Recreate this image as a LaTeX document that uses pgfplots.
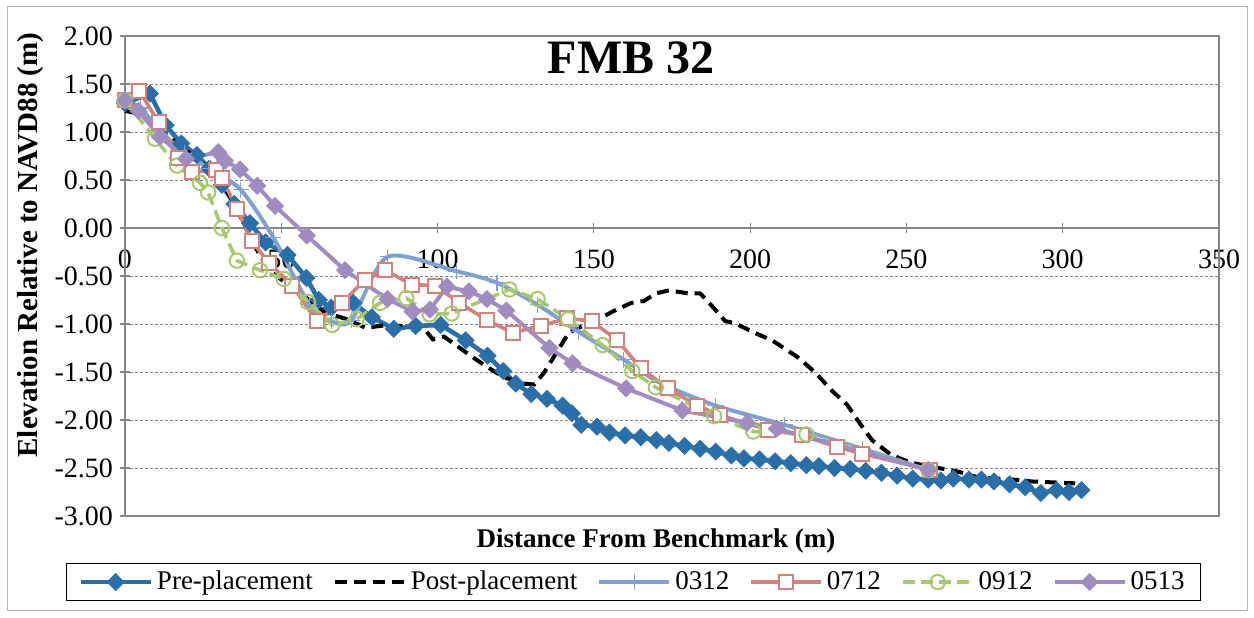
\documentclass[border=0pt]{standalone}
\usepackage{pgfplots}
\pgfplotsset{compat=1.18}
\usepackage{fontspec}
\setmainfont{Liberation Serif}

\definecolor{preblue}{RGB}{44,110,168}
\definecolor{lblue}{RGB}{128,160,208}
\definecolor{lred}{RGB}{212,128,124}
\definecolor{lgreen}{RGB}{168,200,112}
\definecolor{lpurple}{RGB}{160,140,192}
\definecolor{axgray}{RGB}{134,134,134}

\begin{document}
\begin{tikzpicture}
\useasboundingbox (0,0) rectangle (627pt,308.5pt);
\draw[gray!60, line width=0.5pt] (3.5pt,3.5pt) rectangle (623.5pt,305pt);
\begin{axis}[
  at={(62.5pt,50.5pt)}, anchor=south west,
  width=547pt, height=240pt, scale only axis,
  xmin=0, xmax=350, ymin=-3, ymax=2,
  axis x line=middle, axis y line=left,
  axis line style={-, draw=axgray, line width=0.6pt},
  hide obscured x ticks=false,
  xtick={0,50,100,150,200,250,300,350},
  xticklabels={0,50,100,150,200,250,300,350},
  ytick={-3,-2.5,-2,-1.5,-1,-0.5,0,0.5,1,1.5,2},
  yticklabels={-3.00,-2.50,-2.00,-1.50,-1.00,-0.50,0.00,0.50,1.00,1.50,2.00},
  tick label style={font=\fontsize{14}{16}\selectfont},
  xticklabel style={yshift=-5pt},
  tick align=center, major tick length=5pt,
  tick style={draw=axgray, line width=0.6pt},
  ymajorgrids, major grid style={draw=axgray, dash pattern=on 1.5pt off 1pt, line width=0.4pt},
  clip=false,
  legend columns=6,
  legend style={at={(axis description cs:0.4648,-0.1375)}, anchor=center,
    draw=black, line width=0.5pt, font=\fontsize{13.5}{15}\selectfont,
    /tikz/every even column/.append style={column sep=8pt},
    inner ysep=2pt, inner xsep=6pt},
  legend image code/.code={\draw[mark repeat=2,mark phase=2,#1] plot coordinates {(0pt,0pt) (17.5pt,0pt) (35pt,0pt)};},
]
\draw[axgray, line width=0.6pt] (rel axis cs:0,0) rectangle (rel axis cs:1,1);

\addplot[preblue, line width=2.3pt, mark=square*, mark size=3pt, mark options={rotate=45, solid, line width=0.4pt}]
coordinates {(0,1.30)(8,1.40)(13,1.07)(18,0.88)(23,0.76)(27,0.62)(31,0.45)(35,0.25)(40,0.05)(45,-0.15)(52,-0.28)(58,-0.52)(62,-0.75)(66,-0.83)(73,-0.78)(79,-0.93)(86,-1.05)(93,-1.02)(101,-1.01)(109,-1.17)(116,-1.33)(121,-1.49)(125,-1.62)(130,-1.73)(135,-1.78)(140,-1.85)(143,-1.93)(146,-2.05)(151,-2.07)(155,-2.13)(160,-2.16)(165,-2.18)(170,-2.21)(174,-2.24)(179,-2.27)(184,-2.30)(189,-2.33)(194,-2.37)(198,-2.40)(203,-2.41)(208,-2.43)(213,-2.45)(218,-2.47)(222,-2.48)(227,-2.50)(232,-2.51)(237,-2.53)(242,-2.55)(247,-2.58)(252,-2.61)(257,-2.62)(261,-2.63)(265,-2.61)(270,-2.62)(274,-2.62)(278,-2.64)(283,-2.67)(288,-2.70)(293,-2.76)(298,-2.73)(302,-2.75)(306,-2.73)};
\addlegendentry{Pre-placement}

\addplot[black, line width=2pt, dash pattern=on 6pt off 3.5pt]
coordinates {(0,1.22)(6,1.18)(12,1.00)(18,0.85)(24,0.70)(30,0.52)(35,0.25)(41,-0.16)(46,-0.44)(53,-0.61)(59,-0.75)(64,-0.88)(71,-0.95)(77,-1.04)(84,-1.01)(92,-1.03)(96,-1.06)(98.5,-1.16)(102,-1.13)(108,-1.27)(115,-1.43)(121,-1.55)(127,-1.62)(131,-1.63)(134,-1.51)(138,-1.30)(142,-1.09)(147,-1.01)(151,-0.96)(156,-0.87)(162,-0.78)(166,-0.76)(170,-0.68)(174,-0.65)(180,-0.68)(184,-0.68)(188,-0.82)(192,-0.97)(195,-0.99)(202,-1.10)(207,-1.17)(215,-1.34)(221,-1.51)(226,-1.69)(231,-1.84)(235,-2.03)(239,-2.21)(245,-2.36)(251,-2.44)(258,-2.49)(264,-2.52)(268,-2.55)(273,-2.60)(279,-2.61)(284,-2.62)(290,-2.64)(297,-2.65)(304,-2.66)};
\addlegendentry{Post-placement}

\addplot[lblue, line width=2pt, smooth, tension=0.45, mark=+, mark size=4pt, mark options={line width=0.6pt}]
coordinates {(0,1.33)(5,1.25)(11,1.02)(19,0.78)(27,0.62)(37,0.40)(47.5,-0.10)(59,-0.80)(66,-0.97)(72.5,-0.96)(84,-0.30)(106,-0.45)(119,-0.57)(132,-0.80)(145,-1.08)(159.5,-1.37)(171,-1.61)(189,-1.85)(211,-2.05)(236,-2.30)(257,-2.52)};
\addlegendentry{0312}

\addplot[lred, line width=1.8pt, mark=square*, mark size=3.5pt, mark options={fill=white, line width=1pt}]
coordinates {(0,1.33)(4.5,1.43)(10.8,1.10)(16.8,0.73)(21.5,0.58)(29,0.60)(31,0.52)(35.8,0.20)(40.6,-0.14)(46,-0.36)(53.5,-0.60)(61.4,-0.97)(69.4,-0.78)(76.8,-0.54)(83.2,-0.44)(91.8,-0.59)(99.2,-0.60)(107,-0.78)(115.8,-0.96)(124,-1.09)(133,-1.02)(141.4,-0.94)(149.3,-0.97)(157.5,-1.17)(165,-1.46)(173.7,-1.67)(183,-1.85)(190.3,-1.95)(205.7,-2.10)(216.5,-2.16)(227.7,-2.28)(235.7,-2.35)(257.5,-2.52)};
\addlegendentry{0712}

\addplot[lgreen, line width=1.8pt, dash pattern=on 6pt off 3pt, mark=o, mark size=3.6pt, mark options={solid, line width=1pt}]
coordinates {(0,1.33)(9.6,0.93)(16.6,0.65)(24,0.47)(26.6,0.37)(31,0.00)(35.8,-0.34)(43.2,-0.44)(50.8,-0.53)(58.5,-0.77)(66.3,-1.01)(74.1,-0.95)(81.6,-0.78)(90,-0.73)(97.5,-0.90)(104.5,-0.89)(123,-0.64)(132,-0.74)(141.8,-0.95)(152.8,-1.22)(162.3,-1.49)(169.8,-1.66)(188.5,-1.96)(201,-2.12)(218,-2.15)(257,-2.52)};
\addlegendentry{0912}

\addplot[lpurple, line width=2pt, mark=square*, mark size=3pt, mark options={rotate=45, line width=0.4pt}]
coordinates {(0,1.33)(4.3,1.22)(11.2,0.95)(19.5,0.72)(29.8,0.79)(32,0.70)(36.8,0.61)(42.3,0.44)(48,0.23)(58.2,-0.08)(70.4,-0.44)(84,-0.74)(92,-0.87)(97.6,-0.85)(103,-0.61)(110,-0.66)(115.8,-0.74)(122,-0.86)(135.8,-1.25)(143.2,-1.41)(160.3,-1.67)(178.3,-1.90)(199,-2.03)(208.5,-2.09)(257,-2.52)};
\addlegendentry{0513}
\end{axis}
\node[font=\bfseries\fontsize{24}{28}\selectfont, anchor=base] at (315.5pt,271.5pt) {FMB 32};
\node[font=\bfseries\fontsize{13.5}{16}\selectfont] at (328pt,38pt) {Distance From Benchmark (m)};
\node[font=\bfseries\fontsize{14.5}{16}\selectfont, rotate=90] at (15.5pt,186pt) {Elevation Relative to NAVD88 (m)};
\end{tikzpicture}
\end{document}
